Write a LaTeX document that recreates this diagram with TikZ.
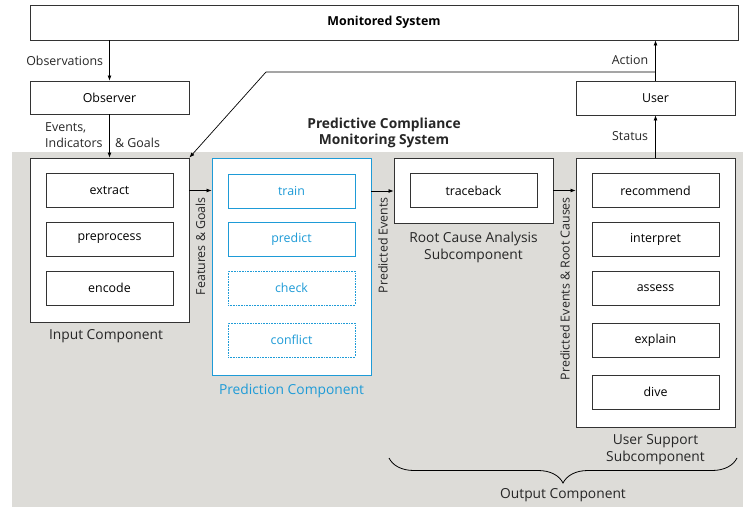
\documentclass[tikz,border=0pt]{standalone}
\usepackage{fontspec}
\setmainfont{Open Sans}
\usetikzlibrary{arrows.meta, decorations.pathreplacing}
\definecolor{pcblue}{RGB}{30,155,215}
\definecolor{pcgray}{RGB}{221,220,216}
\tikzset{
  outer/.style={draw=black!80, fill=white, line width=.9pt, inner sep=0pt, minimum width=159pt},
  inner/.style={draw=black!80, fill=white, line width=.9pt, inner sep=0pt, minimum width=127pt, minimum height=34pt},
  binner/.style={inner, draw=pcblue, text=pcblue},
  dinner/.style={binner, line width=.6pt, densely dotted},
  conn/.style={draw=black, line width=.7pt, -{Latex[length=5pt,width=4pt]}},
  lbl/.style={inner sep=0pt, text=black!85},
  clbl/.style={lbl, align=center, font=\fontsize{13.8}{17}\selectfont},
  vlbl/.style={lbl, rotate=90, anchor=east},
}

\begin{document}
\begin{tikzpicture}[x=1pt, y=-1pt, font=\fontsize{12.4}{15}\selectfont]
  \useasboundingbox (0,0) rectangle (743,508);
  \fill[pcgray] (12,152) rectangle (743,507);

  \node[outer, minimum width=708pt, minimum height=35pt, font=\fontsize{12.4}{15}\selectfont\bfseries] (mon) at (384,22.5) {Monitored System};
  \node[outer, minimum height=33pt] (obs) at (109.5,97.5) {Observer};
  \node[outer, minimum height=34pt] (usr) at (655.5,98) {User};

  \node[outer, minimum height=164pt] (inp) at (109.5,240) {};
  \node[outer, minimum height=217pt, draw=pcblue] (pred) at (291.5,266.5) {};
  \node[outer, minimum height=65pt] (rca) at (473.5,190.5) {};
  \node[outer, minimum height=269pt] (us) at (655.5,292.5) {};

  \node[inner] (ext) at (109.5,190.5) {extract};
  \node[inner] (pre) at (109.5,239) {preprocess};
  \node[inner] (enc) at (109.5,288) {encode};

  \node[binner] (trn) at (291.5,191) {train};
  \node[binner] (prd) at (291.5,239) {predict};
  \node[dinner] (chk) at (291.5,288) {check};
  \node[dinner] (cfl) at (291.5,340) {conflict};

  \node[inner] (trc) at (473.5,190.5) {traceback};

  \node[inner] (rec) at (655.5,190.5) {recommend};
  \node[inner] (itp) at (655.5,239) {interpret};
  \node[inner] (ass) at (655.5,288) {assess};
  \node[inner] (exp) at (655.5,340) {explain};
  \node[inner] (div) at (655.5,392) {dive};

  \node[clbl] (inpl) at (106,336) {Input Component};
  \node[clbl, text=pcblue] (predl) at (291.5,391) {Prediction Component};
  \node[clbl] (rcal) at (473.5,247.5) {Root Cause Analysis\\Subcomponent};
  \node[clbl] (usl) at (655.5,449.5) {User Support\\Subcomponent};
  \node[clbl, font=\fontsize{13.8}{16}\selectfont\bfseries] (ttl) at (384,133) {Predictive Compliance\\Monitoring System};

  \draw[conn] (mon.south -| obs) -- (obs.north) node[lbl, midway, anchor=east, xshift=-6pt] {Observations};
  \draw[conn] (obs.south) -- (inp.north -| obs);
  \node[lbl, align=left, anchor=south west, font=\fontsize{12.4}{16}\selectfont] (evl) at (45,148) {Events,\\Indicators};
  \node[lbl, anchor=south west] (gll) at (115,148) {\& Goals};

  \draw[conn] (us.north -| usr) -- (usr.south) node[lbl, midway, anchor=east, xshift=-7pt] {Status};
  \draw[conn] (usr.north) -- (mon.south -| usr) node[lbl, midway, anchor=east, xshift=-7pt] {Action};
  \coordinate (bend) at (266,72);
  \draw[conn] (usr |- bend) -- (bend) -- (inp.north east);

  \draw[conn] (ext -| inp.east) -- (ext -| pred.west);
  \draw[conn] (trn -| pred.east) -- (trn -| rca.west);
  \draw[conn] (trc -| rca.east) -- (trc -| us.west);
  \node[vlbl] (fgl) at (200.5,197) {Features \& Goals};
  \node[vlbl] (pel) at (383,197) {Predicted Events};
  \node[vlbl] (perl) at (565,197) {Predicted Events \& Root Causes};

  \draw[line width=.8pt, decorate, decoration={brace, mirror, amplitude=25pt}] (389,458) -- (737,458);
  \node[clbl] (outl) at (563,495) {Output Component};
\end{tikzpicture}
\end{document}
